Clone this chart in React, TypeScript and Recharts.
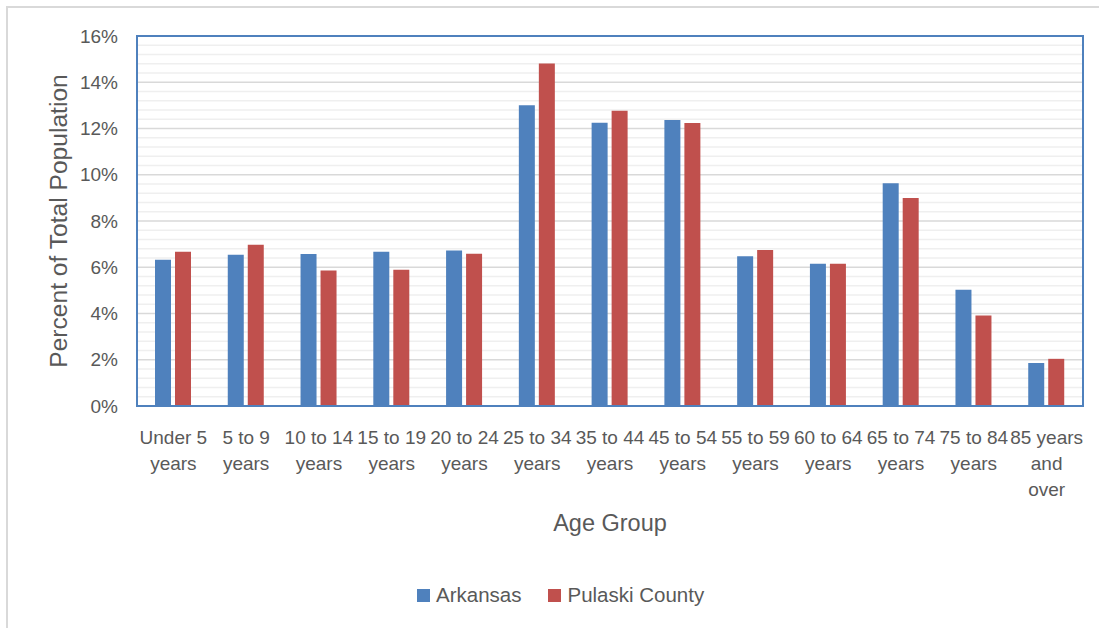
import React from "react";
import {
  BarChart,
  Bar,
  XAxis,
  YAxis,
  CartesianGrid,
  Label,
  ReferenceArea,
} from "recharts";

const categorias = [
  "Under 5\nyears",
  "5 to 9\nyears",
  "10 to 14\nyears",
  "15 to 19\nyears",
  "20 to 24\nyears",
  "25 to 34\nyears",
  "35 to 44\nyears",
  "45 to 54\nyears",
  "55 to 59\nyears",
  "60 to 64\nyears",
  "65 to 74\nyears",
  "75 to 84\nyears",
  "85 years\nand\nover",
];

const arkansas = [6.32, 6.54, 6.57, 6.67, 6.72, 13.01, 12.25, 12.37, 6.48, 6.15, 9.63, 5.03, 1.86];
const pulaski = [6.67, 6.97, 5.86, 5.89, 6.58, 14.81, 12.77, 12.24, 6.75, 6.15, 8.99, 3.91, 2.04];

const yTicks = [0, 2, 4, 6, 8, 10, 12, 14, 16];
const minorTicks = [
  0.4, 0.8, 1.2, 1.6, 2.4, 2.8, 3.2, 3.6, 4.4, 4.8, 5.2, 5.6, 6.4, 6.8, 7.2, 7.6,
  8.4, 8.8, 9.2, 9.6, 10.4, 10.8, 11.2, 11.6, 12.4, 12.8, 13.2, 13.6, 14.4, 14.8,
  15.2, 15.6,
];

const cores = {
  arkansas: "#4f81bd",
  pulaski: "#c0504d",
  borda: "#4f81bd",
  texto: "#595959",
};

const FONTE = "'Liberation Sans', Arial, sans-serif";

const dados = categorias.map((cat, i) => ({
  cat,
  arkansas: arkansas[i],
  pulaski: pulaski[i],
}));

function TickX({ x, y, payload }: any) {
  const linhas = String(payload.value).split("\n");
  return (
    <text
      x={x}
      y={y + 36}
      textAnchor="middle"
      fill={cores.texto}
      fontSize={19}
      fontFamily={FONTE}
    >
      {linhas.map((l, i) => (
        <tspan key={i} x={x} dy={i === 0 ? 0 : 26}>
          {l}
        </tspan>
      ))}
    </text>
  );
}

function TituloY({ viewBox }: any) {
  const cx = 58;
  const cy = viewBox.y + viewBox.height / 2;
  return (
    <text
      x={cx}
      y={cy}
      transform={`rotate(-90 ${cx} ${cy})`}
      textAnchor="middle"
      dominantBaseline="central"
      fill={cores.texto}
      fontSize={24.6}
      fontFamily={FONTE}
    >
      Percent of Total Population
    </text>
  );
}

function TituloX({ viewBox }: any) {
  const cx = viewBox.x + viewBox.width / 2;
  return (
    <text
      x={cx}
      y={531}
      textAnchor="middle"
      fill={cores.texto}
      fontSize={23.5}
      fontFamily={FONTE}
    >
      Age Group
    </text>
  );
}

function Legenda() {
  const itens = [
    { name: "Arkansas", color: cores.arkansas },
    { name: "Pulaski County", color: cores.pulaski },
  ];
  return (
    <div
      style={{
        position: "absolute",
        left: 417,
        top: 583,
        display: "flex",
        alignItems: "center",
        fontFamily: FONTE,
        fontSize: 20.5,
        color: cores.texto,
      }}
    >
      {itens.map((item, i) => (
        <div
          key={item.name}
          style={{
            display: "flex",
            alignItems: "center",
            marginRight: i === 0 ? 27 : 0,
          }}
        >
          <div
            style={{
              width: 13,
              height: 13,
              backgroundColor: item.color,
              marginRight: 6,
            }}
          />
          <span>{item.name}</span>
        </div>
      ))}
    </div>
  );
}

export default function App() {
  return (
    <div
      style={{
        position: "absolute",
        left: 0,
        top: 0,
        width: 1099,
        height: 628,
        background: "#fff",
        overflow: "hidden",
      }}
    >
      <div
        style={{
          position: "absolute",
          left: 6,
          top: 6,
          width: 1200,
          height: 700,
          borderLeft: "2px solid #d9d9d9",
          borderTop: "2px solid #d9d9d9",
        }}
      />
      <BarChart
        width={1099}
        height={628}
        data={dados}
        margin={{ top: 36, right: 16, bottom: 0, left: 0 }}
        barSize={16}
        barGap={4}
      >
        <CartesianGrid
          vertical={false}
          stroke="#efefef"
          strokeWidth={1.5}
          horizontalValues={minorTicks}
        />
        <CartesianGrid vertical={false} stroke="#d9d9d9" strokeWidth={1.5} />
        <XAxis
          dataKey="cat"
          height={222}
          interval={0}
          tickLine={false}
          tickSize={0}
          axisLine={{ stroke: cores.borda, strokeWidth: 2 }}
          tick={<TickX />}
        >
          <Label content={<TituloX />} />
        </XAxis>
        <YAxis
          width={137}
          domain={[0, 16]}
          ticks={yTicks}
          interval={0}
          tickLine={false}
          tickSize={0}
          tickMargin={19}
          axisLine={{ stroke: cores.borda, strokeWidth: 2 }}
          tickFormatter={(v) => `${v}%`}
          tick={{ fill: cores.texto, fontSize: 19, fontFamily: FONTE }}
        >
          <Label content={<TituloY />} />
        </YAxis>
        <Bar dataKey="arkansas" fill={cores.arkansas} isAnimationActive={false} />
        <Bar dataKey="pulaski" fill={cores.pulaski} isAnimationActive={false} />
        <ReferenceArea
          y1={0}
          y2={16}
          fill="none"
          fillOpacity={0}
          stroke={cores.borda}
          strokeWidth={2}
        />
      </BarChart>
      <Legenda />
    </div>
  );
}
